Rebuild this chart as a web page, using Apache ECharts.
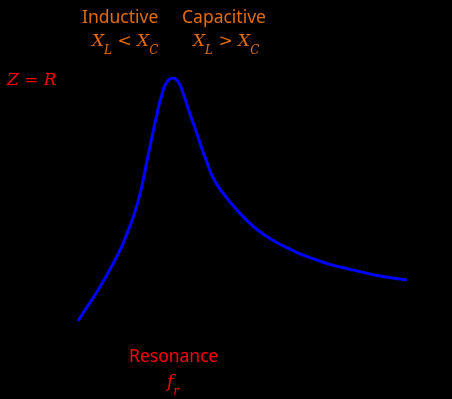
<!DOCTYPE html>
<html>
<head>
<meta charset="utf-8">
<style>
  html, body { margin: 0; padding: 0; background: #000; }
  #chart { width: 452px; height: 399px; }
</style>
<script src="https://cdn.jsdelivr.net/npm/echarts@6/dist/echarts.min.js"></script>
</head>
<body>
<div id="chart"></div>
<script>
// frequency (arbitrary units) and impedance response
const freq = [0, 0.213, 0.517, 0.821, 1.125, 1.328, 1.529, 1.733, 1.936, 2.088, 2.24, 2.392, 2.544, 2.705, 2.888,
  3.049, 3.201, 3.384, 3.608, 3.76, 3.912, 4.064, 4.264, 4.468, 4.62, 4.924, 5.228, 5.532, 5.836,
  6.14, 6.444, 6.748, 7.052, 7.66, 8.167, 8.672, 9.179, 10.0];
const response = [0, 0.045, 0.107, 0.176, 0.251, 0.306, 0.374, 0.45, 0.551, 0.654, 0.75, 0.847, 0.929, 0.984, 1.0,
  0.984, 0.935, 0.86, 0.774, 0.711, 0.656, 0.601, 0.553, 0.516, 0.49, 0.443, 0.402, 0.367, 0.34,
  0.316, 0.296, 0.276, 0.261, 0.233, 0.216, 0.2, 0.185, 0.169];

const orange = '#e46c0a';
const red = '#ff0000';
const textFont = '"Noto Sans", "Open Sans", sans-serif';
const mathFont = '"DejaVu Serif", "Liberation Serif", serif';

const mathRich = (color) => ({
  m: { fontFamily: mathFont, fontStyle: 'italic', fontSize: 17, fill: color, lineHeight: 24, verticalAlign: 'top' },
  s: { fontFamily: mathFont, fontStyle: 'italic', fontSize: 12, fill: color, lineHeight: 24, verticalAlign: 'bottom' },
  o: { fontFamily: mathFont, fontSize: 17, fill: color, lineHeight: 24, verticalAlign: 'top' }
});

const chart = echarts.init(document.getElementById('chart'));
chart.setOption({
  backgroundColor: '#000',
  animation: false,
  grid: { left: 78, right: 45, top: 78, bottom: 78 },
  xAxis: { type: 'value', min: 0, max: 10, show: false },
  yAxis: { type: 'value', min: 0, max: 1, show: false },
  series: [{
    type: 'line',
    data: freq.map((f, i) => [f, response[i]]),
    smooth: 0.5,
    symbol: 'none',
    lineStyle: { color: '#0000ff', width: 3 }
  }],
  graphic: [
    { type: 'text', left: 82, top: 9, style: { text: 'Inductive', fill: orange, font: '17.5px ' + textFont } },
    { type: 'text', left: 182, top: 9, style: { text: 'Capacitive', fill: orange, font: '17.5px ' + textFont } },
    { type: 'text', left: 92, top: 33, style: { text: '{m|X}{s|L}{o| < }{m|X}{s|C}', rich: mathRich(orange) } },
    { type: 'text', left: 193, top: 33, style: { text: '{m|X}{s|L}{o| > }{m|X}{s|C}', rich: mathRich(orange) } },
    { type: 'text', left: 7, top: 72, style: { text: '{m|Z}{o| = }{m|R}', rich: mathRich(red) } },
    { type: 'text', left: 129, top: 348, style: { text: 'Resonance', fill: red, font: '17.5px ' + textFont } },
    { type: 'text', left: 167, top: 374, style: { text: '{m|f}{s|r}', rich: mathRich(red) } }
  ]
});
</script>
</body>
</html>
